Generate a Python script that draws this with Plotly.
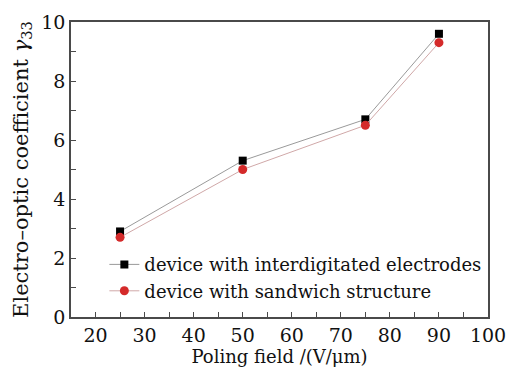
import plotly.graph_objects as go

poling_field = [25, 50, 75, 90]
interdigitated = [2.9, 5.3, 6.7, 9.6]
sandwich = [2.7, 5.0, 6.5, 9.3]
x_ticks = [20, 30, 40, 50, 60, 70, 80, 90, 100]
y_ticks = [0, 2, 4, 6, 8, 10]

FONT = "DejaVu Serif"

fig = go.Figure()
fig.add_trace(go.Scatter(
    x=poling_field, y=interdigitated, mode="lines+markers",
    name="device with interdigitated electrodes",
    line=dict(color="#9a9a9a", width=1),
    marker=dict(symbol="square", color="black", size=8),
))
fig.add_trace(go.Scatter(
    x=poling_field, y=sandwich, mode="lines+markers",
    name="device with sandwich structure",
    line=dict(color="#d0a8a8", width=1),
    marker=dict(symbol="circle", color="#d42a2a", size=9),
))

axis_common = dict(
    showline=True, linecolor="#4a4a4a", linewidth=1.5, mirror=True,
    ticks="inside", ticklen=5, tickcolor="#4a4a4a", tickwidth=1,
    showgrid=False, zeroline=False,
    tickfont=dict(family=FONT, size=19, color="#111"),
)

fig.update_layout(
    width=524, height=372,
    margin=dict(l=71, r=36, t=11, b=52),
    paper_bgcolor="white", plot_bgcolor="white",
    font=dict(family=FONT, color="#111"),
    xaxis=dict(range=[15, 100], tickvals=x_ticks,
               minor=dict(ticks="inside", ticklen=5, dtick=5, tick0=0, tickcolor="#4a4a4a"),
               title=dict(text="Poling field /(V/μm)", font=dict(family=FONT, size=18), standoff=3),
               **axis_common),
    yaxis=dict(range=[0, 10], tickvals=y_ticks,
               minor=dict(ticks="inside", ticklen=5, dtick=1, tick0=0, tickcolor="#4a4a4a"),
               title=dict(text="Electro–optic coefficient <i>γ</i><sub>33</sub>",
                          font=dict(family=FONT, size=21), standoff=7),
               **axis_common),
    legend=dict(x=0.08, y=0.24, xanchor="left", yanchor="top",
                font=dict(family=FONT, size=18), bgcolor="rgba(0,0,0,0)",
                tracegroupgap=0, itemwidth=30),
    showlegend=True,
)

fig.write_html("out.html")
